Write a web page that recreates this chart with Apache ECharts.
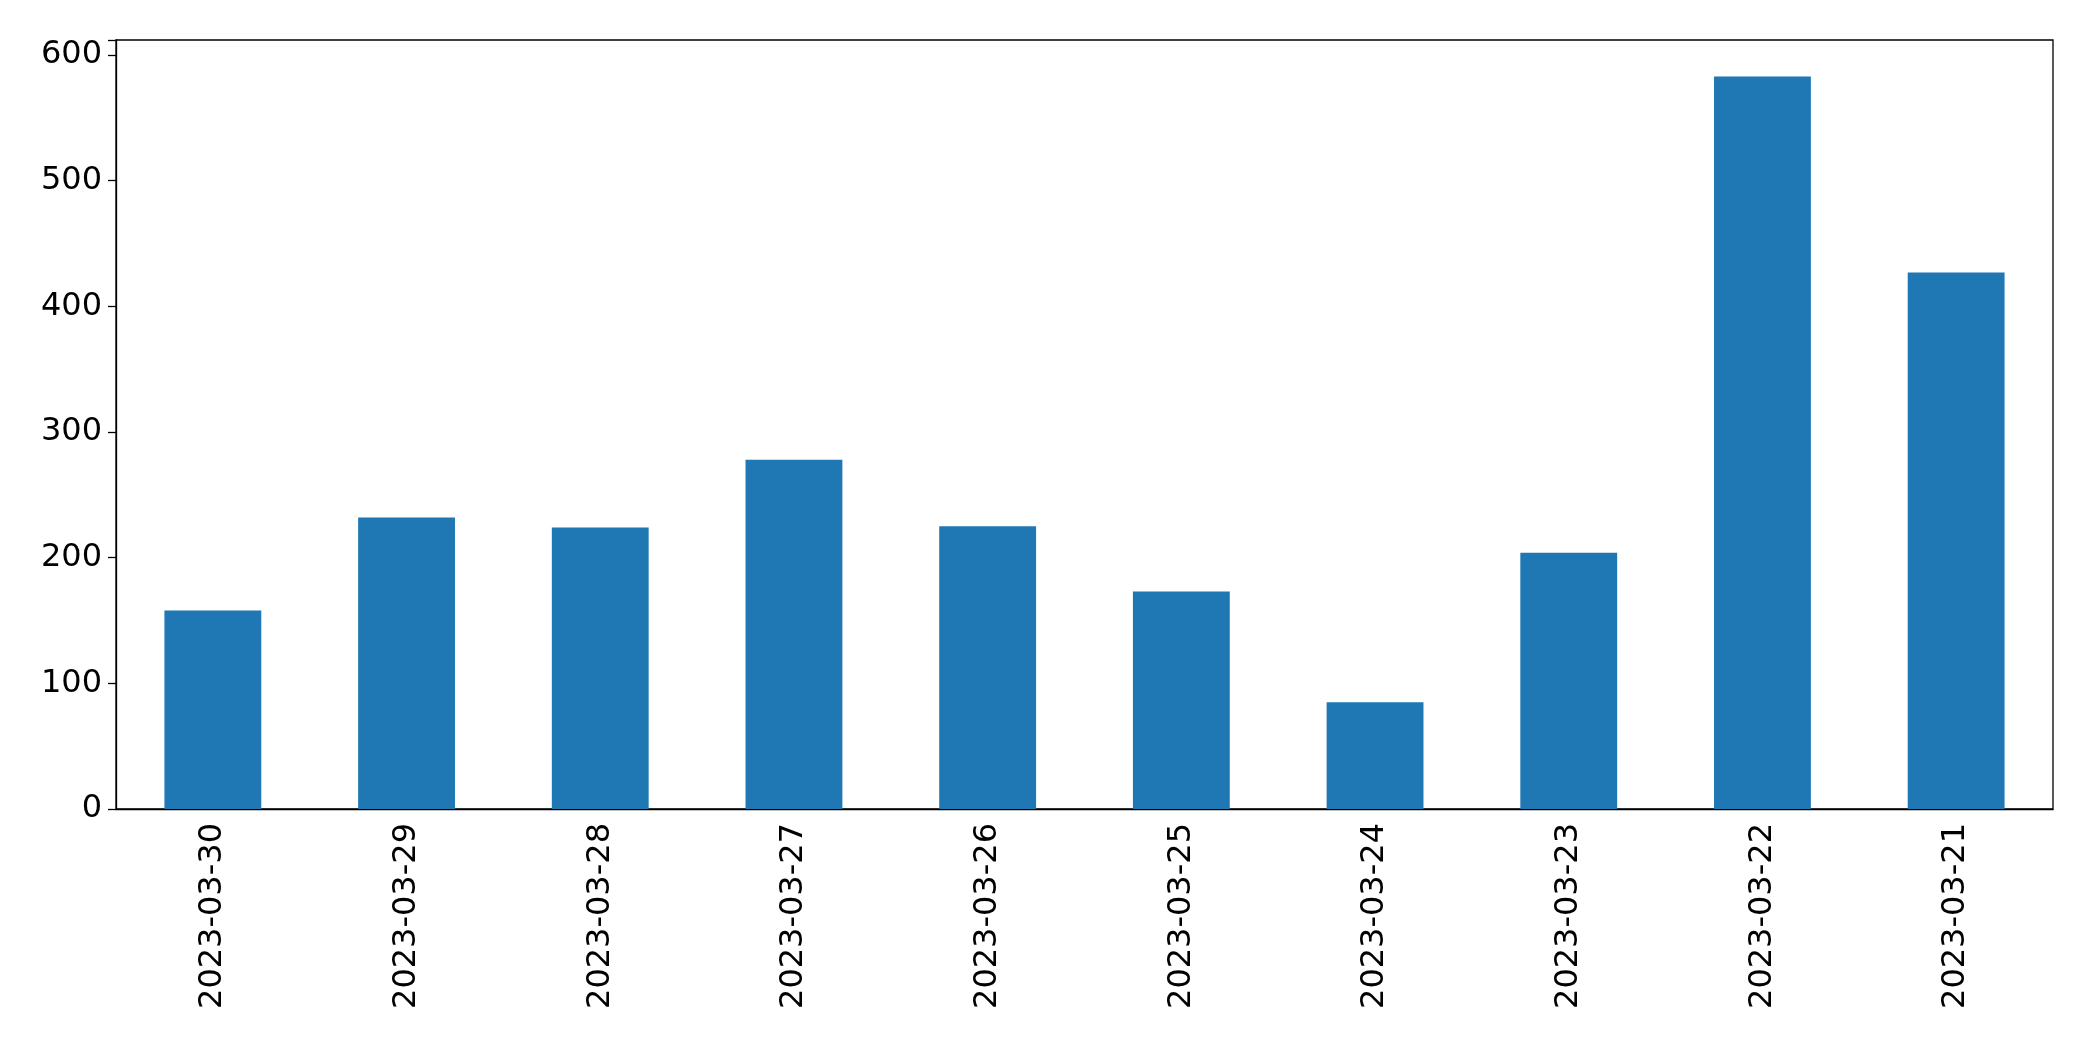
<!DOCTYPE html>
<html><head><meta charset="utf-8">
<script src="https://cdn.jsdelivr.net/npm/echarts@6/dist/echarts.min.js"></script>
<style>html,body{margin:0;padding:0;background:#fff}#c{width:2093px;height:1061px}</style>
</head><body><div id="c"></div>
<script>
const categories = ['2023-03-30','2023-03-29','2023-03-28','2023-03-27','2023-03-26','2023-03-25','2023-03-24','2023-03-23','2023-03-22','2023-03-21'];
const values = [158, 232, 224, 278, 225, 173, 85, 204, 583, 427];
const chart = echarts.init(document.getElementById('c'));
chart.setOption({
  animation:false,
  grid:{left:116,right:40,top:40,bottom:252,show:true,borderColor:'#000',borderWidth:1.3,backgroundColor:'transparent'},
  xAxis:{type:'category',data:categories,
    axisLine:{lineStyle:{color:'#000',width:1.3}},
    axisTick:{alignWithLabel:true,length:8,lineStyle:{color:'#000',width:1.3}},
    axisLabel:{rotate:90,color:'#000',fontSize:32,fontFamily:'DejaVu Sans',margin:14}},
  yAxis:{type:'value',min:0,max:612,interval:100,
    splitLine:{show:false},
    axisLine:{show:true,lineStyle:{color:'#000',width:1.3}},
    axisTick:{show:true,length:8,lineStyle:{color:'#000',width:1.3}},
    axisLabel:{color:'#000',fontSize:32,fontFamily:'DejaVu Sans',margin:14,
      formatter:v=>v%100===0?String(v):''}},
  series:[{type:'bar',data:values,barWidth:'50%',itemStyle:{color:'#1f77b4'}}]
});
</script></body></html>
